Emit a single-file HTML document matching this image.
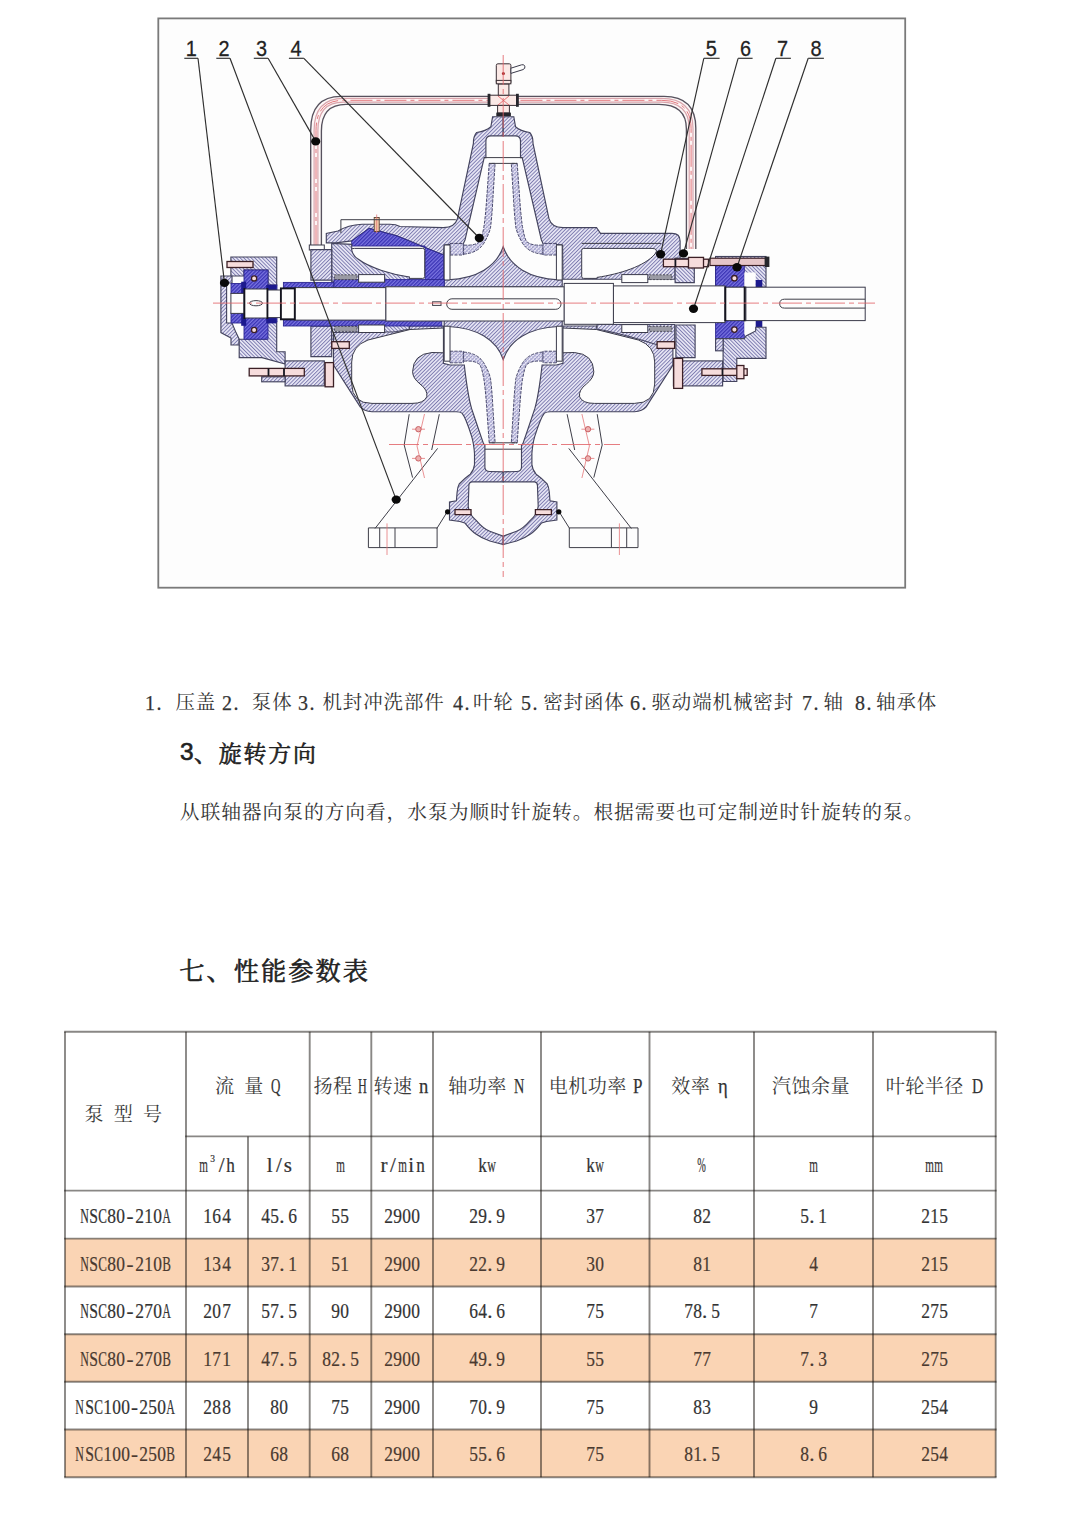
<!DOCTYPE html>
<html lang="zh-CN"><head><meta charset="utf-8"><title>NSC 性能参数表</title>
<style>
html,body{margin:0;padding:0;background:#fff}
body{width:1079px;height:1527px;position:relative;overflow:hidden;font-family:"Liberation Serif",serif;color:#333}
.abs{position:absolute;left:0;top:0}
.ln{position:absolute;left:0;top:0;margin:0;width:1079px;height:0;font-weight:normal;font-size:20px}
.c{position:absolute;display:block;color:#333;overflow:visible;white-space:nowrap;line-height:1.28;font-weight:normal;font-family:"Liberation Serif","Noto Serif CJK SC",serif}
.t{position:absolute;display:block;white-space:nowrap;transform-origin:0 50%;-webkit-text-stroke:.25px currentColor}
.b{font-family:"Liberation Sans",sans-serif;color:#222;-webkit-text-stroke:.6px #222}
.pt{position:absolute;border-collapse:collapse;table-layout:fixed;font-size:21px;color:#333}
.pt td,.pt th{padding:0;text-align:center;vertical-align:middle;font-weight:normal;white-space:nowrap;overflow:visible}
.pt th{vertical-align:top}
.pt td span{display:inline-block;position:relative;top:1.6px;margin:0 -20px;-webkit-text-stroke:.22px currentColor}
.q{display:inline-flex;justify-content:center;width:9.1px;font-weight:normal}
.q.p{justify-content:flex-start;padding-left:.4px;box-sizing:border-box}
.q.u3{font-size:10.5px;position:relative;top:-9.5px;transform:scaleX(.9)}
.pt tr.u td span{top:2px}
.pt tr.o td{color:#4a3a30}
.fig{position:absolute;left:0;top:0}
.lab{font-family:"Liberation Sans",sans-serif;font-size:22.6px;fill:#222;stroke:#222;stroke-width:.28}
</style></head>
<body>
<svg class="fig" width="1079" height="620" viewBox="0 0 1079 620" role="img" aria-label="泵结构图"><style>.h{fill:url(#ha);stroke:#44445e;stroke-width:1.15}.g{fill:url(#hb);stroke:#44445e;stroke-width:1.15}.x{fill:url(#hx);stroke:#3a3a60;stroke-width:.9;stroke-dasharray:3.2 1.2}.bl{fill:url(#hk);stroke:#2c2790;stroke-width:.9}.w{fill:#fdfdfd;stroke:#3a3a4a;stroke-width:1}.w0{fill:#fdfdfd;stroke:none}.wk{fill:#fdfdfd;stroke:#15151f;stroke-width:1.9}.kk{fill:none;stroke:#15151f;stroke-width:1.8}.k{fill:#f6dcdc;stroke:#3c2026;stroke-width:1.3}.k2{fill:#fbe9e6;stroke:#3a3036;stroke-width:1}.dk{fill:#26262c;stroke:none}.db{fill:#1d1a8e;stroke:none}.kb{fill:#f2c9a8;stroke:#5a4030;stroke-width:.9}.kr{fill:#eeb0b0;stroke:#c4595c;stroke-width:.9}.st{fill:#e6c6c8;stroke:#3c2026;stroke-width:1.2}.sp{fill:#9a9aa4;stroke:#3a3a44;stroke-width:.8;stroke-dasharray:2 1.4}.o{fill:none;stroke:#3e3e48;stroke-width:1}.r{fill:none;stroke:#e2666a;stroke-width:.85;stroke-dasharray:30 4 5 4}.r0{fill:none;stroke:#e4575c;stroke-width:.8}.r1{fill:none;stroke:#e4777a;stroke-width:.8}.rd{fill:#a02020;stroke:none}.ld{fill:none;stroke:#2e2e2e;stroke-width:1.15}.dot{fill:#0a0a0a;stroke:none}</style><defs><pattern id="ha" width="2.6" height="2.6" patternUnits="userSpaceOnUse" patternTransform="rotate(45)"><rect width="2.6" height="2.6" fill="#e9e8f6"/><rect width=".95" height="2.6" fill="#7b79ae"/></pattern><pattern id="hb" width="2.6" height="2.6" patternUnits="userSpaceOnUse" patternTransform="rotate(-45)"><rect width="2.6" height="2.6" fill="#e9e8f6"/><rect width=".95" height="2.6" fill="#7b79ae"/></pattern><pattern id="hx" width="2.6" height="2.6" patternUnits="userSpaceOnUse" patternTransform="rotate(45)"><rect width="2.6" height="2.6" fill="#e9e8f6"/><rect width=".9" height="2.6" fill="#9896c4"/><rect width="2.6" height=".7" fill="#b4b2d8"/></pattern><pattern id="hk" width="2.6" height="2.6" patternUnits="userSpaceOnUse" patternTransform="rotate(45)"><rect width="2.6" height="2.6" fill="#7a74e0"/><rect width="1.3" height="2.6" fill="#3a33b4"/></pattern></defs><rect x="158.3" y="18.4" width="746.9" height="569.3" fill="#fdfdfd" stroke="#7a7a7a" stroke-width="1.8"/><path d="M310.7 247V130Q310.7 96.3 341 96.3H664Q695.8 96.3 695.8 128V249 L686.4 249 L686.4 129Q686.4 104.3 659 104.3H346Q321.4 104.3 321.4 131V247Z" fill="#fdf7f7" stroke="none"/><path d="M316 247V130.5Q316 100.3 343.5 100.3H661.5Q691.1 100.3 691.1 128.5V249" fill="none" stroke="#d8a4ac" stroke-width="5"/><path d="M316 247V130.5Q316 100.3 343.5 100.3H661.5Q691.1 100.3 691.1 128.5V249" fill="none" stroke="#fdf4f4" stroke-width="2.6"/><path d="M316 247V130.5Q316 100.3 343.5 100.3H661.5Q691.1 100.3 691.1 128.5V249" fill="none" stroke="#e06a70" stroke-width=".9" stroke-dasharray="22 4 4 4"/><path d="M310.7 247V130Q310.7 96.3 341 96.3H664Q695.8 96.3 695.8 128V249" fill="none" stroke="#57525e" stroke-width="1.35"/><path d="M321.4 247V131Q321.4 104.3 346 104.3H659Q686.4 104.3 686.4 129V249" fill="none" stroke="#57525e" stroke-width="1.35"/><rect class="w" x="309.3" y="245.0" width="15.0" height="5.0"/><rect class="k2" x="488.8" y="95.2" width="28.8" height="10.2"/><rect class="dk" x="487.6" y="93.8" width="2.8" height="13.0"/><rect class="dk" x="516.0" y="93.8" width="2.8" height="13.0"/><rect class="k2" x="498.3" y="83.8" width="10.6" height="11.4"/><rect class="k2" x="497.6" y="105.4" width="11.8" height="7.6"/><rect class="dk" x="496.3" y="112.6" width="14.6" height="3.7"/><rect class="k2" x="496.3" y="63.8" width="14.6" height="20" rx="1.6"/><rect class="k2" x="496.3" y="80.4" width="14.6" height="3.4"/><path class="w" d="M510.9 73.4L523 69.6Q525.6 68.6 524.8 66.2Q524 64 521.6 64.8L510.9 68.2Z"/><circle class="rd" cx="503.4" cy="73.6" r="1.5"/><path class="r0" d="M498.0 96.0L509.0 105.0"/><path class="r0" d="M509.0 96.0L498.0 105.0"/><path class="h" d="M503.2,116.7L492.6,116.7L490.9,126.7Q486,131 476.7,132.5Q473.2,136.5 473.4,143.4L457.5,218.4Q455,227.6 443.4,227.6L400,226.5Q396,224.2 390,224.2L362,224.2Q348,225 338,231L326.3,233.4L326.3,242.8L336,242.8L351.7,240.9L369.2,228.4L396.8,235.9L443.5,255.1L444.2,245L463.4,243.4L465,240L484.2,157.6L485.9,157.6L485.9,141Q485.9,135.9 491,135.9L503.2,135.9Z"/><path class="h" d="M503.2,116.7L513.8,116.7L515.5,126.7Q520.4,131 529.7,132.5Q533.2,136.5 533,143.4L548.9,218.4Q551.4,227.6 563,227.6L596.5,227.5L600.5,233.4L672,233.4Q680.1,233.4 680.1,241L680.1,258.4L675.1,258.4L675.1,279.2L597,279.2L563,279.2L562.6,245L543,243.4L541.4,240L522.2,157.6L520.5,157.6L520.5,141Q520.5,135.9 515.4,135.9L503.2,135.9Z"/><path class="o" d="M484.2 157.6L522.2 157.6"/><path class="w" d="M581.7,250.4Q581.7,248.4 583.7,248.4L652,248.4Q659,248.6 655,254C645,266 620,274 597,277.4L597,278.4L583.7,278.4Q581.7,278.4 581.7,276.4Z"/><path class="o" d="M581.7 243.4L661.0 243.4"/><path class="bl" d="M351.7,240.9L369.2,228.4L396.8,235.9L443.5,255.1L443.5,281.7L425.1,281.7L425.1,246L351.7,246Z"/><path class="w" d="M424.7,250.4Q424.7,248.4 422.7,248.4L354.4,248.4Q347.4,248.6 351.4,254C361.4,266 386.4,274 409.4,277.4L409.4,278.4L422.7,278.4Q424.7,278.4 424.7,276.4Z"/><path class="g" d="M331.7,243.4L351.7,244.4L351.7,250Q353,256 358,259C370,268 392,274.5 409.4,277L409.4,281.7L331.7,281.7Z"/><path class="h" d="M310.9,249.6L331.7,249.6L331.7,280.1L310.9,280.1Z"/><path class="h" d="M310.9,356.6L331.7,356.6L331.7,326.1L310.9,326.1Z"/><path class="g" d="M331.7,344.2L351,344.2C370,338.2 392,331.7 409.4,329.2L409.4,324.5L331.7,324.5Z"/><path class="h" d="M333.5,332.5L408.4,331.7L410,326L443.4,326L443.4,363.4L450,365L463.4,365L464.3,365.1C466,380 469,400 471.7,408.9L478.7,429.8L483.5,443.7L484.9,445L484.9,467.3Q485,471.5 489.8,471.5L503.2,471.9L503.2,481.9L471.7,481.9Q468.5,482.5 468.9,486.8L468.2,506.2C469,512 472,517 475.9,520.1C481,526 486,530 489.8,531.2L503.2,536.1L503.2,544.5L489.8,541C484,539 480,537 475.9,534C471,531 468,527 464.8,522.9L459.9,521.5L449.5,520.1L449.5,502L456.4,500.7L457.1,492.3Q457.5,487 459.2,484Q466,477 470.3,474.2Q474,470 474.5,464.5L474.5,453.4C474,447 473,441 471.7,436.7C469,428 466,418 462,413.1Q460,411.7 456,411.7L372,411.7Q364,411 360.2,406.8L333.5,365Z"/><path class="h" d="M672.9,332.5L598,331.7L596.4,326L563,326L563,363.4L556.4,365L543,365L542.1,365.1C540.4,380 537.4,400 534.7,408.9L527.7,429.8L522.9,443.7L521.5,445L521.5,467.3Q521.4,471.5 516.6,471.5L503.2,471.9L503.2,481.9L534.7,481.9Q537.9,482.5 537.5,486.8L538.2,506.2C537.4,512 534.4,517 530.5,520.1C525.4,526 520.4,530 516.6,531.2L503.2,536.1L503.2,544.5L516.6,541C522.4,539 526.4,537 530.5,534C535.4,531 538.4,527 541.6,522.9L546.5,521.5L556.9,520.1L556.9,502L550,500.7L549.3,492.3Q548.9,487 547.2,484Q540.4,477 536.1,474.2Q532.4,470 531.9,464.5L531.9,453.4C532.4,447 533.4,441 534.7,436.7C537.4,428 540.4,418 544.4,413.1Q546.4,411.7 550.4,411.7L634.4,411.7Q642.4,411 646.2,406.8L672.9,365Z"/><path class="w" d="M443.4,328L410,329.5L368,340Q351.7,346 351.7,362L351.7,384Q352,403.4 372,403.4L412,403.4Q424,403.4 426.8,396.8Q428,390 420,384Q412.6,378 412.6,371.7Q413,354 432,352.5L443.4,352.8Z"/><path class="w" d="M563,328L596.4,329.5L638.4,340Q654.7,346 654.7,362L654.7,384Q654.4,403.4 634.4,403.4L594.4,403.4Q582.4,403.4 579.6,396.8Q578.4,390 586.4,384Q593.8,378 593.8,371.7Q593.4,354 574.4,352.5L563,352.8Z"/><path class="h" d="M444.2,286.8L444.2,279.7L448.4,279.7C477,278.4 496.5,266.5 503.2,246.7C509.9,266.5 529.4,278.4 558,279.7L562.2,279.7L562.2,286.8Z"/><path class="h" d="M444.2,319.4L444.2,326.5L448.4,326.5C477,327.8 496.5,339.7 503.2,359.5C509.9,339.7 529.4,327.8 558,326.5L562.2,326.5L562.2,319.4Z"/><path class="x" d="M489.2,163.4L486.6,200C485.6,214 484.6,223 483.7,227.8C482.6,234 481.6,238 480.2,241Q476,246 463.4,245L463.4,254.2Q478,253 484,243C487.5,237 489.5,232 490.5,227.8C491.5,220 492.3,210 492.8,200L495.1,163.4Z"/><path class="x" d="M517.2,163.4L519.8,200C520.8,214 521.8,223 522.7,227.8C523.8,234 524.8,238 526.2,241Q530.4,246 543,245L543,254.2Q528.4,253 522.4,243C518.9,237 516.9,232 515.9,227.8C514.9,220 514.1,210 513.6,200L511.3,163.4Z"/><path class="x" d="M489.2,442.8L486.6,406.2C485.6,392.2 484.6,383.2 483.7,378.4C482.6,372.2 481.6,368.2 480.2,365.2Q476,360.2 463.4,361.2L463.4,352Q478,353.2 484,363.2C487.5,369.2 489.5,374.2 490.5,378.4C491.5,386.2 492.3,396.2 492.8,406.2L495.1,442.8Z"/><path class="x" d="M517.2,442.8L519.8,406.2C520.8,392.2 521.8,383.2 522.7,378.4C523.8,372.2 524.8,368.2 526.2,365.2Q530.4,360.2 543,361.2L543,352Q528.4,353.2 522.4,363.2C518.9,369.2 516.9,374.2 515.9,378.4C514.9,386.2 514.1,396.2 513.6,406.2L511.3,442.8Z"/><path class="o" d="M489.2 163.4L517.2 163.4"/><path class="o" d="M489.2 442.8L517.2 442.8"/><path class="x" d="M450,243.4L463.4,243.4L463.4,255L450,255Z"/><path class="x" d="M556.4,243.4L543,243.4L543,255L556.4,255Z"/><path class="x" d="M450,362.8L463.4,362.8L463.4,351.2L450,351.2Z"/><path class="x" d="M556.4,362.8L543,362.8L543,351.2L556.4,351.2Z"/><path class="w" d="M444.2,245L450,245L450,280L444.2,280Z"/><path class="w" d="M562.2,245L556.4,245L556.4,280L562.2,280Z"/><path class="w" d="M444.2,361.2L450,361.2L450,326.2L444.2,326.2Z"/><path class="w" d="M562.2,361.2L556.4,361.2L556.4,326.2L562.2,326.2Z"/><path class="o" d="M484.9 449.2L521.5 449.2"/><path class="h" d="M220.9,276L232,276L232,283L226.6,283L226.6,323L232,323L236,332.6L239.2,339.2L239.2,345L231,345L231,338L220.9,332.6Z"/><path class="g" d="M230.9,257L276.7,257L276.7,285L268,285L268,270L244,270L244,276L230.9,276Z"/><path class="g" d="M239.2,339.2L267,339.2L267,321.7L276.7,321.7L276.7,351.7L285.1,351.7L285.1,364L262,357.6L239.2,357.6Z"/><rect class="bl" x="244.0" y="270.0" width="24.0" height="20.0"/><rect class="bl" x="244.0" y="316.5" width="24.0" height="22.7"/><rect class="bl" x="231.0" y="283.5" width="13.5" height="9.9"/><rect class="bl" x="231.0" y="313.0" width="13.5" height="10.0"/><rect class="bl" x="268.0" y="285.0" width="9.0" height="5.0"/><rect class="bl" x="268.0" y="316.5" width="9.0" height="5.2"/><rect class="db" x="241.2" y="281.7" width="5.0" height="11.7"/><rect class="db" x="241.2" y="313.0" width="5.0" height="12.8"/><rect class="db" x="266.2" y="285.0" width="10.4" height="6.7"/><rect class="db" x="266.2" y="316.0" width="10.4" height="7.4"/><circle class="k" cx="254.1" cy="278.4" r="2.6"/><circle class="k" cx="254.1" cy="330.0" r="2.6"/><rect class="k" x="227.0" y="261.5" width="26.0" height="6.0"/><rect class="h" x="285.1" y="360.9" width="39.2" height="25.0"/><rect class="h" x="261.7" y="376.8" width="23.4" height="5.0"/><rect class="k" x="325.1" y="362.6" width="8.4" height="24.2"/><rect class="k" x="249.2" y="368.4" width="55.1" height="7.5"/><path class="kk" d="M268.5 368.4L268.5 375.9"/><path class="kk" d="M284.0 368.4L284.0 375.9"/><path class="g" d="M675.1,258.4L694.3,258.4L694.3,282.6L675.1,282.6Z"/><path class="g" d="M675.9,325L695.1,325L695.1,357.6L675.9,357.6Z"/><path class="h" d="M674.7,344.2L655.4,344.2C636.4,338.2 614.4,331.7 597,329.2L597,324.5L674.7,324.5Z"/><rect class="k" x="663.4" y="259.2" width="45.1" height="7.5"/><rect class="k" x="688.5" y="257.4" width="15.0" height="10.6"/><path class="kk" d="M675.4 259.2L675.4 266.7"/><rect class="g" x="715.6" y="256.5" width="50.4" height="30.7"/><rect class="bl" x="715.6" y="265.5" width="28.7" height="21.7"/><rect class="bl" x="715.6" y="320.6" width="28.7" height="18.0"/><rect class="w0" x="744.3" y="272.5" width="11.4" height="14.7"/><rect class="w0" x="744.3" y="320.6" width="11.4" height="13.9"/><rect class="db" x="755.7" y="280.0" width="6.6" height="7.2"/><rect class="db" x="755.7" y="320.6" width="6.6" height="6.6"/><path class="g" d="M723.1,338.6L744.3,338.6L746,336L755.7,331L755.7,327.2L766,327.2L766,358.4L736.8,358.4L736.8,381.5L723.1,381.5Z"/><rect class="h" x="715.6" y="338.6" width="7.5" height="12.2"/><circle class="k" cx="734.4" cy="278.2" r="2.7"/><circle class="k" cx="734.4" cy="329.6" r="2.7"/><rect class="st" x="710.0" y="258.2" width="58.0" height="7.3"/><rect class="dk" x="764.6" y="256.6" width="4.8" height="10.4"/><rect class="h" x="673.4" y="360.9" width="49.2" height="25.0"/><rect class="k" x="673.7" y="358.4" width="8.9" height="30.0"/><rect class="k" x="701.9" y="368.8" width="45.3" height="6.6"/><rect class="k" x="736.8" y="365.5" width="7.1" height="13.2"/><path class="kk" d="M722.5 368.8L722.5 375.4"/><rect class="bl" x="283.4" y="282.4" width="50.6" height="5.6"/><rect class="bl" x="334.0" y="279.6" width="110.2" height="8.4"/><rect class="bl" x="283.4" y="319.8" width="158.4" height="6.2"/><rect class="w" x="358.6" y="274.6" width="26.0" height="7.6"/><rect class="w" x="358.6" y="325.0" width="26.0" height="7.5"/><rect class="sp" x="334.5" y="274.8" width="22.5" height="4.8"/><rect class="sp" x="334.5" y="326.4" width="22.5" height="5.0"/><rect class="sp" x="649.4" y="274.8" width="22.5" height="4.8"/><rect class="sp" x="649.4" y="326.4" width="22.5" height="5.0"/><rect class="w" x="621.8" y="274.6" width="26.0" height="8.0"/><rect class="w" x="621.8" y="324.6" width="26.0" height="7.9"/><rect class="w" x="230.9" y="293.4" width="13.3" height="20.0"/><rect class="w" x="244.2" y="289.0" width="23.4" height="29.0"/><rect class="w" x="267.6" y="290.0" width="13.4" height="27.6"/><rect class="w" x="294.8" y="287.6" width="91.1" height="32.5"/><rect class="w" x="385.9" y="286.8" width="178.4" height="34.2"/><rect class="w" x="613.4" y="285.9" width="111.6" height="36.7"/><rect class="w" x="564.2" y="283.4" width="49.2" height="40.9"/><rect class="w" x="725.0" y="287.2" width="20.9" height="33.4"/><rect class="w" x="745.9" y="287.2" width="119.3" height="33.4"/><rect class="wk" x="280.9" y="288.4" width="13.9" height="30.9"/><path class="kk" d="M244.4 288.0L244.4 319.0"/><path class="kk" d="M267.4 288.0L267.4 319.0"/><path class="kk" d="M725.4 286.5L725.4 321.3"/><path class="kk" d="M744.6 286.5L744.6 321.3"/><rect class="o" x="446.7" y="298.8" width="114.3" height="10.5" rx="5.2"/><path class="o" d="M865.2 299.2H784.5Q779.7 299.2 779.7 303.6Q779.7 308.1 784.5 308.1H865.2"/><rect class="o" x="432.6" y="301.8" width="8.4" height="3.6"/><ellipse class="o" cx="256" cy="303.2" rx="6.5" ry="2.6"/><path class="o" d="M409.2,414.2L404.2,445L412.6,477.6"/><path class="o" d="M597.2,414.2L602.2,445L593.8,477.6"/><path class="o" d="M439.3,414.2L431.7,450"/><path class="o" d="M567.1,414.2L574.7,450"/><path class="o" d="M437.6,448.4L375,528.5"/><path class="o" d="M568.8,448.4L631.4,528.5"/><path class="o" d="M448.4,510L436.8,528.5"/><path class="o" d="M558,510L569.6,528.5"/><path class="o" d="M368.4,527.9L437.1,527.9L437.1,547.6L368.4,547.6Z"/><path class="o" d="M638,527.9L569.3,527.9L569.3,547.6L638,547.6Z"/><path class="o" d="M379.7,527.9L379.7,547.6"/><path class="o" d="M626.7,527.9L626.7,547.6"/><path class="o" d="M395,527.9L395,547.6"/><path class="o" d="M611.4,527.9L611.4,547.6"/><path class="r1" d="M424.5,414L417,446L424.5,478"/><path class="r1" d="M387,523.4L387,555"/><path class="r1" d="M412,429.2L425,429.2"/><path class="r1" d="M412,458.4L425,458.4"/><path class="r1" d="M581.9,414L589.4,446L581.9,478"/><path class="r1" d="M619.4,523.4L619.4,555"/><path class="r1" d="M594.4,429.2L581.4,429.2"/><path class="r1" d="M594.4,458.4L581.4,458.4"/><circle class="kr" cx="418.4" cy="429.2" r="2.7"/><circle class="kr" cx="418.4" cy="458.4" r="2.7"/><circle class="kr" cx="588.0" cy="429.2" r="2.7"/><circle class="kr" cx="588.0" cy="458.4" r="2.7"/><path class="k" d="M455,509.7L471,509.7L471,514.6L455,514.6Z"/><path class="k" d="M551.4,509.7L535.4,509.7L535.4,514.6L551.4,514.6Z"/><circle class="dot" cx="447.6" cy="511.8" r="2.6"/><circle class="dot" cx="558.8" cy="511.8" r="2.6"/><rect class="k" x="331.8" y="341.7" width="17.5" height="6.7"/><rect class="k" x="657.1" y="341.7" width="17.5" height="6.7"/><path class="r" d="M213.0 303.1L875.0 303.1"/><path class="r" d="M503.2 55.0L503.2 577.0"/><path class="r" d="M389.0 444.5L620.0 444.5"/><rect class="kb" x="374.2" y="217.5" width="5.0" height="14.0"/><path class="r1" d="M376.7 214.5L376.7 233.0"/><path class="o" d="M340.9,233L340.9,219.7L455.8,219.7"/><path class="ld" d="M184.3 58.3L198.0 58.3"/><path class="ld" d="M198.0 58.3L224.5 282.9"/><ellipse class="dot" cx="224.5" cy="282.9" rx="4.6" ry="4.2"/><text class="lab" transform="translate(191.3 55.7) scale(.88 1)" text-anchor="middle">1</text><path class="ld" d="M216.3 58.3L230.0 58.3"/><path class="ld" d="M230.0 58.3L396.2 499.6"/><ellipse class="dot" cx="396.2" cy="499.6" rx="4.6" ry="4.2"/><text class="lab" transform="translate(224.0 55.7) scale(.88 1)" text-anchor="middle">2</text><path class="ld" d="M253.8 58.3L268.1 58.3"/><path class="ld" d="M268.1 58.3L315.7 141.4"/><ellipse class="dot" cx="315.7" cy="141.4" rx="4.6" ry="4.2"/><text class="lab" transform="translate(261.4 55.7) scale(.88 1)" text-anchor="middle">3</text><path class="ld" d="M288.9 58.3L303.9 58.3"/><path class="ld" d="M303.9 58.3L479.3 238.0"/><ellipse class="dot" cx="479.3" cy="238.0" rx="4.6" ry="4.2"/><text class="lab" transform="translate(295.9 55.7) scale(.88 1)" text-anchor="middle">4</text><path class="ld" d="M703.8 58.3L719.6 58.3"/><path class="ld" d="M703.8 58.3L660.6 254.2"/><ellipse class="dot" cx="660.6" cy="254.2" rx="4.6" ry="4.2"/><text class="lab" transform="translate(711.3 55.7) scale(.88 1)" text-anchor="middle">5</text><path class="ld" d="M738.1 58.3L752.6 58.3"/><path class="ld" d="M738.1 58.3L683.5 253.4"/><ellipse class="dot" cx="683.5" cy="253.4" rx="4.6" ry="4.2"/><text class="lab" transform="translate(745.6 55.7) scale(.88 1)" text-anchor="middle">6</text><path class="ld" d="M775.9 58.3L790.9 58.3"/><path class="ld" d="M775.9 58.3L693.5 308.8"/><ellipse class="dot" cx="693.5" cy="308.8" rx="4.6" ry="4.2"/><text class="lab" transform="translate(782.6 55.7) scale(.88 1)" text-anchor="middle">7</text><path class="ld" d="M808.2 58.3L823.9 58.3"/><path class="ld" d="M808.2 58.3L737.0 267.2"/><ellipse class="dot" cx="737.0" cy="267.2" rx="4.6" ry="4.2"/><text class="lab" transform="translate(815.9 55.7) scale(.88 1)" text-anchor="middle">8</text></svg>
<p class="ln"><span class="t" style="left:145.10px;top:691.55px;font-size:20.60px;line-height:23.67px;transform:scaleX(0.970);letter-spacing:1.60px">1.</span><span class="c" style="left:175.40px;top:691.49px;width:40.80px;height:21.60px;font-size:19.44px;letter-spacing:.95px">压盖</span><span class="t" style="left:222.20px;top:691.55px;font-size:20.60px;line-height:23.67px;transform:scaleX(0.970);letter-spacing:1.60px">2.</span><span class="c" style="left:251.80px;top:691.49px;width:40.80px;height:21.60px;font-size:19.44px;letter-spacing:.95px">泵体</span><span class="t" style="left:298.20px;top:691.55px;font-size:20.60px;line-height:23.67px;transform:scaleX(0.970);letter-spacing:1.60px">3.</span><span class="c" style="left:322.40px;top:691.49px;width:122.40px;height:21.60px;font-size:19.44px;letter-spacing:.95px">机封冲洗部件</span><span class="t" style="left:452.50px;top:691.55px;font-size:20.60px;line-height:23.67px;transform:scaleX(0.970);letter-spacing:1.60px">4.</span><span class="c" style="left:472.90px;top:691.49px;width:40.80px;height:21.60px;font-size:19.44px;letter-spacing:.95px">叶轮</span><span class="t" style="left:520.50px;top:691.55px;font-size:20.60px;line-height:23.67px;transform:scaleX(0.970);letter-spacing:1.60px">5.</span><span class="c" style="left:543.20px;top:691.49px;width:81.60px;height:21.60px;font-size:19.44px;letter-spacing:.95px">密封函体</span><span class="t" style="left:630.30px;top:691.55px;font-size:20.60px;line-height:23.67px;transform:scaleX(0.970);letter-spacing:1.60px">6.</span><span class="c" style="left:651.40px;top:691.49px;width:142.80px;height:21.60px;font-size:19.44px;letter-spacing:.95px">驱动端机械密封</span><span class="t" style="left:802.00px;top:691.55px;font-size:20.60px;line-height:23.67px;transform:scaleX(0.970);letter-spacing:1.60px">7.</span><span class="c" style="left:823.60px;top:691.49px;width:20.40px;height:21.60px;font-size:19.44px;letter-spacing:.95px">轴</span><span class="t" style="left:854.50px;top:691.55px;font-size:20.60px;line-height:23.67px;transform:scaleX(0.970);letter-spacing:1.60px">8.</span><span class="c" style="left:876.00px;top:691.49px;width:61.20px;height:21.60px;font-size:19.44px;letter-spacing:.95px">轴承体</span></p>
<h3 class="ln"><span class="t b" style="left:180px;top:738.23px;font-size:24.5px;line-height:28px">3</span><span class="c" style="left:194.00px;top:740.25px;width:123.75px;height:25.40px;font-size:22.86px;letter-spacing:1.88px;color:#222;-webkit-text-stroke:.6px #222">、旋转方向</span></h3>
<p class="ln"><span class="c" style="left:179.80px;top:799.94px;width:748.20px;height:22.00px;font-size:19.80px;letter-spacing:.9px">从联轴器向泵的方向看，水泵为顺时针旋转。根据需要也可定制逆时针旋转的泵。</span></p>
<h2 class="ln"><span class="c" style="left:179.30px;top:956.26px;width:190.75px;height:28.00px;font-size:25.20px;letter-spacing:2.04px;color:#222;-webkit-text-stroke:.6px #222">七、性能参数表</span></h2>
<svg class="abs" width="1079" height="1527" viewBox="0 0 1079 1527" aria-hidden="true"><g stroke="rgba(20,16,12,.5)" stroke-width="1.9" fill="none"><rect x="65.0" y="1238.6" width="930.7" height="47.9" fill="#fad4b4" stroke="none"/><rect x="65.0" y="1334.3" width="930.7" height="47.5" fill="#fad4b4" stroke="none"/><rect x="65.0" y="1429.5" width="930.7" height="47.7" fill="#fad4b4" stroke="none"/><path d="M64.2 1031.8H996.5"/><path d="M185.2 1136.4H996.5"/><path d="M64.2 1190.6H996.5"/><path d="M64.2 1238.6H996.5"/><path d="M64.2 1286.5H996.5"/><path d="M64.2 1334.3H996.5"/><path d="M64.2 1381.8H996.5"/><path d="M64.2 1429.5H996.5"/><path d="M64.2 1477.2H996.5"/><path d="M65.0 1031.8V1477.2"/><path d="M186.0 1031.8V1477.2"/><path d="M248.0 1136.4V1477.2"/><path d="M309.7 1031.8V1477.2"/><path d="M371.3 1031.8V1477.2"/><path d="M433.0 1031.8V1477.2"/><path d="M541.0 1031.8V1477.2"/><path d="M649.5 1031.8V1477.2"/><path d="M754.0 1031.8V1477.2"/><path d="M873.0 1031.8V1477.2"/><path d="M995.7 1031.8V1477.2"/></g></svg>
<table class="pt" style="left:65.0px;top:1031.8px;width:930.7px"><colgroup><col style="width:121.0px"><col style="width:62.0px"><col style="width:61.7px"><col style="width:61.6px"><col style="width:61.7px"><col style="width:108.0px"><col style="width:108.5px"><col style="width:104.5px"><col style="width:119.0px"><col style="width:122.7px"></colgroup><tr style="height:104.6px"><th rowspan="2"><span class="c" style="left:19.60px;top:71.54px;width:78.00px;height:21.20px;font-size:19.08px;letter-spacing:2.7px;color:#3a3a3a">泵 型 号</span></th><th colspan="2"><span class="c" style="left:149.90px;top:43.04px;width:48.75px;height:21.20px;font-size:19.08px;letter-spacing:2.7px;color:#3a3a3a">流 量</span><span class="t" style="left:205.70px;top:41.40px;font-size:22.00px;line-height:25.28px;transform:scaleX(0.592)">Q</span></th><th><span class="c" style="left:248.60px;top:43.04px;width:39.00px;height:21.20px;font-size:19.08px;letter-spacing:.42px;color:#3a3a3a">扬程</span><span class="t" style="left:293.10px;top:41.40px;font-size:22.00px;line-height:25.28px;transform:scaleX(0.555)">H</span></th><th><span class="c" style="left:308.40px;top:43.04px;width:39.00px;height:21.20px;font-size:19.08px;letter-spacing:.42px;color:#3a3a3a">转速</span><span class="t" style="left:353.70px;top:41.40px;font-size:22.00px;line-height:25.28px;transform:scaleX(0.846)">n</span></th><th><span class="c" style="left:383.30px;top:43.04px;width:58.50px;height:21.20px;font-size:19.08px;letter-spacing:.42px;color:#3a3a3a">轴功率</span><span class="t" style="left:448.90px;top:41.40px;font-size:22.00px;line-height:25.28px;transform:scaleX(0.649)">N</span></th><th><span class="c" style="left:483.80px;top:43.04px;width:78.00px;height:21.20px;font-size:19.08px;letter-spacing:.42px;color:#3a3a3a">电机功率</span><span class="t" style="left:568.00px;top:41.40px;font-size:22.00px;line-height:25.28px;transform:scaleX(0.771)">P</span></th><th><span class="c" style="left:606.20px;top:43.04px;width:39.00px;height:21.20px;font-size:19.08px;letter-spacing:.42px;color:#3a3a3a">效率</span><span class="t" style="left:652.50px;top:41.40px;font-size:22.00px;line-height:25.28px;transform:scaleX(0.846)">η</span></th><th><span class="c" style="left:707.00px;top:43.04px;width:78.00px;height:21.20px;font-size:19.08px;letter-spacing:.42px;color:#3a3a3a">汽蚀余量</span></th><th><span class="c" style="left:820.80px;top:43.04px;width:78.00px;height:21.20px;font-size:19.08px;letter-spacing:.42px;color:#3a3a3a">叶轮半径</span><span class="t" style="left:906.60px;top:41.40px;font-size:22.00px;line-height:25.28px;transform:scaleX(0.696)">D</span></th></tr><tr class="u" style="height:54.2px"><td><span><b class="q" style="transform:scaleX(0.53)">m</b><b class="q u3">3</b><b class="q">/</b><b class="q" style="transform:scaleX(0.82)">h</b></span></td><td><span><b class="q">l</b><b class="q">/</b><b class="q">s</b></span></td><td><span><b class="q" style="transform:scaleX(0.53)">m</b></span></td><td><span><b class="q">r</b><b class="q">/</b><b class="q" style="transform:scaleX(0.53)">m</b><b class="q">i</b><b class="q" style="transform:scaleX(0.82)">n</b></span></td><td><span><b class="q" style="transform:scaleX(0.82)">k</b><b class="q" style="transform:scaleX(0.57)">w</b></span></td><td><span><b class="q" style="transform:scaleX(0.82)">k</b><b class="q" style="transform:scaleX(0.57)">w</b></span></td><td><span><b class="q" style="transform:scaleX(0.49)">%</b></span></td><td><span><b class="q" style="transform:scaleX(0.53)">m</b></span></td><td><span><b class="q" style="transform:scaleX(0.53)">m</b><b class="q" style="transform:scaleX(0.53)">m</b></span></td></tr><tr style="height:48.0px"><td class="m"><span><b class="q" style="transform:scaleX(0.57)">N</b><b class="q" style="transform:scaleX(0.75)">S</b><b class="q" style="transform:scaleX(0.62)">C</b><b class="q" style="transform:scaleX(0.83)">8</b><b class="q" style="transform:scaleX(0.83)">0</b><b class="q">-</b><b class="q" style="transform:scaleX(0.83)">2</b><b class="q" style="transform:scaleX(0.83)">1</b><b class="q" style="transform:scaleX(0.83)">0</b><b class="q" style="transform:scaleX(0.57)">A</b></span></td><td><span><b class="q" style="transform:scaleX(0.83)">1</b><b class="q" style="transform:scaleX(0.83)">6</b><b class="q" style="transform:scaleX(0.83)">4</b></span></td><td><span><b class="q" style="transform:scaleX(0.83)">4</b><b class="q" style="transform:scaleX(0.83)">5</b><b class="q p">.</b><b class="q" style="transform:scaleX(0.83)">6</b></span></td><td><span><b class="q" style="transform:scaleX(0.83)">5</b><b class="q" style="transform:scaleX(0.83)">5</b></span></td><td><span><b class="q" style="transform:scaleX(0.83)">2</b><b class="q" style="transform:scaleX(0.83)">9</b><b class="q" style="transform:scaleX(0.83)">0</b><b class="q" style="transform:scaleX(0.83)">0</b></span></td><td><span><b class="q" style="transform:scaleX(0.83)">2</b><b class="q" style="transform:scaleX(0.83)">9</b><b class="q p">.</b><b class="q" style="transform:scaleX(0.83)">9</b></span></td><td><span><b class="q" style="transform:scaleX(0.83)">3</b><b class="q" style="transform:scaleX(0.83)">7</b></span></td><td><span><b class="q" style="transform:scaleX(0.83)">8</b><b class="q" style="transform:scaleX(0.83)">2</b></span></td><td><span><b class="q" style="transform:scaleX(0.83)">5</b><b class="q p">.</b><b class="q" style="transform:scaleX(0.83)">1</b></span></td><td><span><b class="q" style="transform:scaleX(0.83)">2</b><b class="q" style="transform:scaleX(0.83)">1</b><b class="q" style="transform:scaleX(0.83)">5</b></span></td></tr><tr class="o" style="height:47.9px"><td class="m"><span><b class="q" style="transform:scaleX(0.57)">N</b><b class="q" style="transform:scaleX(0.75)">S</b><b class="q" style="transform:scaleX(0.62)">C</b><b class="q" style="transform:scaleX(0.83)">8</b><b class="q" style="transform:scaleX(0.83)">0</b><b class="q">-</b><b class="q" style="transform:scaleX(0.83)">2</b><b class="q" style="transform:scaleX(0.83)">1</b><b class="q" style="transform:scaleX(0.83)">0</b><b class="q" style="transform:scaleX(0.62)">B</b></span></td><td><span><b class="q" style="transform:scaleX(0.83)">1</b><b class="q" style="transform:scaleX(0.83)">3</b><b class="q" style="transform:scaleX(0.83)">4</b></span></td><td><span><b class="q" style="transform:scaleX(0.83)">3</b><b class="q" style="transform:scaleX(0.83)">7</b><b class="q p">.</b><b class="q" style="transform:scaleX(0.83)">1</b></span></td><td><span><b class="q" style="transform:scaleX(0.83)">5</b><b class="q" style="transform:scaleX(0.83)">1</b></span></td><td><span><b class="q" style="transform:scaleX(0.83)">2</b><b class="q" style="transform:scaleX(0.83)">9</b><b class="q" style="transform:scaleX(0.83)">0</b><b class="q" style="transform:scaleX(0.83)">0</b></span></td><td><span><b class="q" style="transform:scaleX(0.83)">2</b><b class="q" style="transform:scaleX(0.83)">2</b><b class="q p">.</b><b class="q" style="transform:scaleX(0.83)">9</b></span></td><td><span><b class="q" style="transform:scaleX(0.83)">3</b><b class="q" style="transform:scaleX(0.83)">0</b></span></td><td><span><b class="q" style="transform:scaleX(0.83)">8</b><b class="q" style="transform:scaleX(0.83)">1</b></span></td><td><span><b class="q" style="transform:scaleX(0.83)">4</b></span></td><td><span><b class="q" style="transform:scaleX(0.83)">2</b><b class="q" style="transform:scaleX(0.83)">1</b><b class="q" style="transform:scaleX(0.83)">5</b></span></td></tr><tr style="height:47.8px"><td class="m"><span><b class="q" style="transform:scaleX(0.57)">N</b><b class="q" style="transform:scaleX(0.75)">S</b><b class="q" style="transform:scaleX(0.62)">C</b><b class="q" style="transform:scaleX(0.83)">8</b><b class="q" style="transform:scaleX(0.83)">0</b><b class="q">-</b><b class="q" style="transform:scaleX(0.83)">2</b><b class="q" style="transform:scaleX(0.83)">7</b><b class="q" style="transform:scaleX(0.83)">0</b><b class="q" style="transform:scaleX(0.57)">A</b></span></td><td><span><b class="q" style="transform:scaleX(0.83)">2</b><b class="q" style="transform:scaleX(0.83)">0</b><b class="q" style="transform:scaleX(0.83)">7</b></span></td><td><span><b class="q" style="transform:scaleX(0.83)">5</b><b class="q" style="transform:scaleX(0.83)">7</b><b class="q p">.</b><b class="q" style="transform:scaleX(0.83)">5</b></span></td><td><span><b class="q" style="transform:scaleX(0.83)">9</b><b class="q" style="transform:scaleX(0.83)">0</b></span></td><td><span><b class="q" style="transform:scaleX(0.83)">2</b><b class="q" style="transform:scaleX(0.83)">9</b><b class="q" style="transform:scaleX(0.83)">0</b><b class="q" style="transform:scaleX(0.83)">0</b></span></td><td><span><b class="q" style="transform:scaleX(0.83)">6</b><b class="q" style="transform:scaleX(0.83)">4</b><b class="q p">.</b><b class="q" style="transform:scaleX(0.83)">6</b></span></td><td><span><b class="q" style="transform:scaleX(0.83)">7</b><b class="q" style="transform:scaleX(0.83)">5</b></span></td><td><span><b class="q" style="transform:scaleX(0.83)">7</b><b class="q" style="transform:scaleX(0.83)">8</b><b class="q p">.</b><b class="q" style="transform:scaleX(0.83)">5</b></span></td><td><span><b class="q" style="transform:scaleX(0.83)">7</b></span></td><td><span><b class="q" style="transform:scaleX(0.83)">2</b><b class="q" style="transform:scaleX(0.83)">7</b><b class="q" style="transform:scaleX(0.83)">5</b></span></td></tr><tr class="o" style="height:47.5px"><td class="m"><span><b class="q" style="transform:scaleX(0.57)">N</b><b class="q" style="transform:scaleX(0.75)">S</b><b class="q" style="transform:scaleX(0.62)">C</b><b class="q" style="transform:scaleX(0.83)">8</b><b class="q" style="transform:scaleX(0.83)">0</b><b class="q">-</b><b class="q" style="transform:scaleX(0.83)">2</b><b class="q" style="transform:scaleX(0.83)">7</b><b class="q" style="transform:scaleX(0.83)">0</b><b class="q" style="transform:scaleX(0.62)">B</b></span></td><td><span><b class="q" style="transform:scaleX(0.83)">1</b><b class="q" style="transform:scaleX(0.83)">7</b><b class="q" style="transform:scaleX(0.83)">1</b></span></td><td><span><b class="q" style="transform:scaleX(0.83)">4</b><b class="q" style="transform:scaleX(0.83)">7</b><b class="q p">.</b><b class="q" style="transform:scaleX(0.83)">5</b></span></td><td><span><b class="q" style="transform:scaleX(0.83)">8</b><b class="q" style="transform:scaleX(0.83)">2</b><b class="q p">.</b><b class="q" style="transform:scaleX(0.83)">5</b></span></td><td><span><b class="q" style="transform:scaleX(0.83)">2</b><b class="q" style="transform:scaleX(0.83)">9</b><b class="q" style="transform:scaleX(0.83)">0</b><b class="q" style="transform:scaleX(0.83)">0</b></span></td><td><span><b class="q" style="transform:scaleX(0.83)">4</b><b class="q" style="transform:scaleX(0.83)">9</b><b class="q p">.</b><b class="q" style="transform:scaleX(0.83)">9</b></span></td><td><span><b class="q" style="transform:scaleX(0.83)">5</b><b class="q" style="transform:scaleX(0.83)">5</b></span></td><td><span><b class="q" style="transform:scaleX(0.83)">7</b><b class="q" style="transform:scaleX(0.83)">7</b></span></td><td><span><b class="q" style="transform:scaleX(0.83)">7</b><b class="q p">.</b><b class="q" style="transform:scaleX(0.83)">3</b></span></td><td><span><b class="q" style="transform:scaleX(0.83)">2</b><b class="q" style="transform:scaleX(0.83)">7</b><b class="q" style="transform:scaleX(0.83)">5</b></span></td></tr><tr style="height:47.7px"><td class="m"><span><b class="q" style="transform:scaleX(0.57)">N</b><b class="q" style="transform:scaleX(0.75)">S</b><b class="q" style="transform:scaleX(0.62)">C</b><b class="q" style="transform:scaleX(0.83)">1</b><b class="q" style="transform:scaleX(0.83)">0</b><b class="q" style="transform:scaleX(0.83)">0</b><b class="q">-</b><b class="q" style="transform:scaleX(0.83)">2</b><b class="q" style="transform:scaleX(0.83)">5</b><b class="q" style="transform:scaleX(0.83)">0</b><b class="q" style="transform:scaleX(0.57)">A</b></span></td><td><span><b class="q" style="transform:scaleX(0.83)">2</b><b class="q" style="transform:scaleX(0.83)">8</b><b class="q" style="transform:scaleX(0.83)">8</b></span></td><td><span><b class="q" style="transform:scaleX(0.83)">8</b><b class="q" style="transform:scaleX(0.83)">0</b></span></td><td><span><b class="q" style="transform:scaleX(0.83)">7</b><b class="q" style="transform:scaleX(0.83)">5</b></span></td><td><span><b class="q" style="transform:scaleX(0.83)">2</b><b class="q" style="transform:scaleX(0.83)">9</b><b class="q" style="transform:scaleX(0.83)">0</b><b class="q" style="transform:scaleX(0.83)">0</b></span></td><td><span><b class="q" style="transform:scaleX(0.83)">7</b><b class="q" style="transform:scaleX(0.83)">0</b><b class="q p">.</b><b class="q" style="transform:scaleX(0.83)">9</b></span></td><td><span><b class="q" style="transform:scaleX(0.83)">7</b><b class="q" style="transform:scaleX(0.83)">5</b></span></td><td><span><b class="q" style="transform:scaleX(0.83)">8</b><b class="q" style="transform:scaleX(0.83)">3</b></span></td><td><span><b class="q" style="transform:scaleX(0.83)">9</b></span></td><td><span><b class="q" style="transform:scaleX(0.83)">2</b><b class="q" style="transform:scaleX(0.83)">5</b><b class="q" style="transform:scaleX(0.83)">4</b></span></td></tr><tr class="o" style="height:47.7px"><td class="m"><span><b class="q" style="transform:scaleX(0.57)">N</b><b class="q" style="transform:scaleX(0.75)">S</b><b class="q" style="transform:scaleX(0.62)">C</b><b class="q" style="transform:scaleX(0.83)">1</b><b class="q" style="transform:scaleX(0.83)">0</b><b class="q" style="transform:scaleX(0.83)">0</b><b class="q">-</b><b class="q" style="transform:scaleX(0.83)">2</b><b class="q" style="transform:scaleX(0.83)">5</b><b class="q" style="transform:scaleX(0.83)">0</b><b class="q" style="transform:scaleX(0.62)">B</b></span></td><td><span><b class="q" style="transform:scaleX(0.83)">2</b><b class="q" style="transform:scaleX(0.83)">4</b><b class="q" style="transform:scaleX(0.83)">5</b></span></td><td><span><b class="q" style="transform:scaleX(0.83)">6</b><b class="q" style="transform:scaleX(0.83)">8</b></span></td><td><span><b class="q" style="transform:scaleX(0.83)">6</b><b class="q" style="transform:scaleX(0.83)">8</b></span></td><td><span><b class="q" style="transform:scaleX(0.83)">2</b><b class="q" style="transform:scaleX(0.83)">9</b><b class="q" style="transform:scaleX(0.83)">0</b><b class="q" style="transform:scaleX(0.83)">0</b></span></td><td><span><b class="q" style="transform:scaleX(0.83)">5</b><b class="q" style="transform:scaleX(0.83)">5</b><b class="q p">.</b><b class="q" style="transform:scaleX(0.83)">6</b></span></td><td><span><b class="q" style="transform:scaleX(0.83)">7</b><b class="q" style="transform:scaleX(0.83)">5</b></span></td><td><span><b class="q" style="transform:scaleX(0.83)">8</b><b class="q" style="transform:scaleX(0.83)">1</b><b class="q p">.</b><b class="q" style="transform:scaleX(0.83)">5</b></span></td><td><span><b class="q" style="transform:scaleX(0.83)">8</b><b class="q p">.</b><b class="q" style="transform:scaleX(0.83)">6</b></span></td><td><span><b class="q" style="transform:scaleX(0.83)">2</b><b class="q" style="transform:scaleX(0.83)">5</b><b class="q" style="transform:scaleX(0.83)">4</b></span></td></tr></table>
</body></html>
